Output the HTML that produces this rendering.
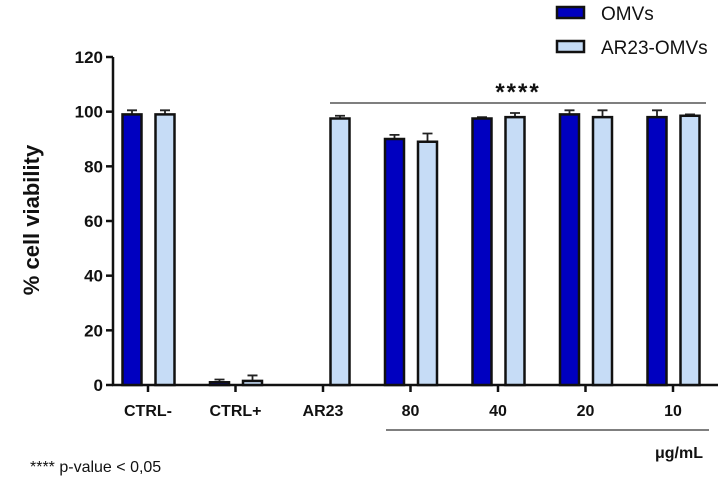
<!DOCTYPE html>
<html><head><meta charset="utf-8"><style>
body{margin:0;background:#fff}
svg text{font-family:"Liberation Sans",Arial,sans-serif;font-weight:bold;fill:#111}
</style></head><body>
<svg id="chart" width="726" height="479" xmlns="http://www.w3.org/2000/svg">
<g id="plot"></g>
</svg>
<script>
const categories=["CTRL-","CTRL+","AR23","80","40","20","10"];
const omvs=[99,1,null,90,97.5,99,98];
const omvsErr=[1.5,1,null,1.5,0.5,1.5,2.5];
const ar23omvs=[99,1.5,97.5,89,98,98,98.5];
const ar23Err=[1.5,2,1,3,1.5,2.5,0.5];
const yTicks=[0,20,40,60,80,100,120];
const NS="http://www.w3.org/2000/svg";
const g=document.getElementById('plot');
const x0=113,y0=385,yTop=57,yMax=120;
const y=v=>y0-(v/yMax)*(y0-yTop);
const xc=i=>148+i*87.5;
function el(t,a,txt){const e=document.createElementNS(NS,t);for(const k in a)e.setAttribute(k,a[k]);if(txt!=null)e.textContent=txt;g.appendChild(e);return e;}
let e=el('line',{x1:x0,y1:yTop,x2:x0,y2:y0+1,stroke:'#111','stroke-width':2.5});


e=el('line',{x1:x0-1,y1:y0,x2:718,y2:y0,stroke:'#111','stroke-width':2.5});


yTicks.forEach(t=>{
 let l=el('line',{x1:x0-7,y1:y(t),x2:x0,y2:y(t),stroke:'#111','stroke-width':2.5});
 
 
 let tx=el('text',{x:x0-10,y:y(t)+6,'text-anchor':'end','font-size':17},t);
 
 
});
categories.forEach((c,i)=>{
 let l=el('line',{x1:xc(i),y1:y0,x2:xc(i),y2:y0+7,stroke:'#111','stroke-width':2.5});
 
 
 let tx=el('text',{x:xc(i),y:y0+31,'text-anchor':'middle','font-size':16},c);
 
 
});
function bar(v,err,cx,fill,name){
 if(v==null)return;
 const w=19;
 let eb=el('path',{d:`M${cx},${y(v)} V${y(v+err)} M${cx-5},${y(v+err)} H${cx+5}`,stroke:'#222','stroke-width':1.8,fill:'none'});
 
 
 let r=el('rect',{x:cx-w/2,y:y(v),width:w,height:y0-y(v),fill:fill,stroke:'#111','stroke-width':2.5});
 
 
}
categories.forEach((c,i)=>{
 bar(omvs[i],omvsErr[i],xc(i)-16,'#0000c0','bar-omvs');
 bar(ar23omvs[i],ar23Err[i],xc(i)+17,'#c6dcf6','bar-ar23-omvs');
});
e=el('line',{x1:330,y1:103,x2:706,y2:103,stroke:'#333','stroke-width':1.3});


e=el('text',{x:518,y:100,'text-anchor':'middle','font-size':24,'letter-spacing':2},'****');


e=el('line',{x1:386,y1:430,x2:709,y2:430,stroke:'#333','stroke-width':1.3});


e=el('text',{x:703,y:458,'text-anchor':'end','font-size':16},'μg/mL');


e=el('text',{x:30,y:472,'font-size':16,style:'font-weight:normal'},'**** p-value < 0,05');


e=el('text',{x:0,y:0,'text-anchor':'middle','font-size':22,transform:'translate(39,220) rotate(-90)'},'% cell viability');


e=el('rect',{x:557,y:7,width:27,height:11,fill:'#0000c0',stroke:'#111','stroke-width':2.5});


e=el('text',{x:601,y:20,'font-size':19,style:'font-weight:normal'},'OMVs');


e=el('rect',{x:557,y:41,width:27,height:11,fill:'#c6dcf6',stroke:'#111','stroke-width':2.5});


e=el('text',{x:601,y:54,'font-size':19,style:'font-weight:normal'},'AR23-OMVs');


</script>
</body></html>
